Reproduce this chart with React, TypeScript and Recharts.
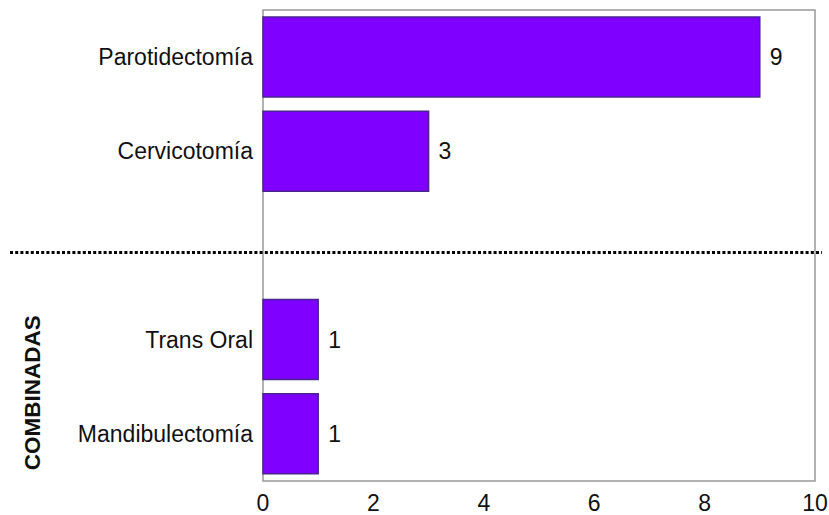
import { Bar, BarChart, LabelList, ReferenceArea, ReferenceLine, XAxis, YAxis } from "recharts";

const CATEGORIES = ["Parotidectomía", "Cervicotomía", " ", "Trans Oral", "Mandibulectomía"];
const COUNTS = [9, 3, null, 1, 1];
const X_TICKS = [0, 2, 4, 6, 8, 10];
const GROUP_LABEL = "COMBINADAS";

const FONT = "'Liberation Sans', Arial, Helvetica, sans-serif";
const BAR_FILL = "#7f00ff";
const BAR_STROKE = "#4a2490";
const BOX_COLOR = "#999999";
const TICK = { fill: "#111111", fontSize: 23, fontFamily: FONT };

const rows = CATEGORIES.map((name, i) => ({ name, value: COUNTS[i] }));

export default function App() {
  return (
    <div style={{ position: "absolute", left: 0, top: 0, background: "#fff" }}>
      <BarChart
        width={829}
        height={515}
        data={rows}
        layout="vertical"
        margin={{ top: 10, right: 14, bottom: 0, left: 0 }}
        barSize={80}
      >
        <XAxis
          type="number"
          domain={[0, 10]}
          ticks={X_TICKS}
          axisLine={false}
          tickLine={false}
          tickSize={0}
          tickMargin={14}
          height={34}
          tick={TICK}
          interval={0}
        />
        <YAxis
          type="category"
          dataKey="name"
          width={263}
          axisLine={false}
          tickLine={false}
          tickSize={0}
          tickMargin={10}
          tick={TICK}
          interval={0}
        />
        <Bar
          dataKey="value"
          fill={BAR_FILL}
          stroke={BAR_STROKE}
          strokeWidth={1.5}
          isAnimationActive={false}
        >
          <LabelList
            dataKey="value"
            position="right"
            offset={10}
            style={{ fill: "#111111", fontSize: 23, fontFamily: FONT }}
          />
        </Bar>
        <ReferenceArea
          x1={0}
          x2={10}
          fill="none"
          stroke={BOX_COLOR}
          strokeWidth={1.5}
          ifOverflow="visible"
        />
        {/* group caption, centred on the combined-surgery rows */}
        <ReferenceArea
          y1="Trans Oral"
          y2="Mandibulectomía"
          fill="none"
          stroke="none"
          ifOverflow="visible"
          label={(props: any) => {
            const vb = props.viewBox;
            const cx = 33;
            const cy = vb.y + vb.height / 2 + 6;
            return (
              <text
                x={cx}
                y={cy}
                transform={`rotate(-90, ${cx}, ${cy})`}
                textAnchor="middle"
                dominantBaseline="central"
                fontSize={22.5}
                fontWeight="bold"
                fontFamily={FONT}
                fill="#111111"
              >
                {GROUP_LABEL}
              </text>
            );
          }}
        />
        {/* dotted separator between single and combined procedures */}
        <ReferenceLine
          y=" "
          ifOverflow="visible"
          shape={(p: any) => (
            <line
              x1={10}
              x2={822}
              y1={p.y1 + 7}
              y2={p.y2 + 7}
              stroke="#000000"
              strokeWidth={3}
              strokeDasharray="3 2.2"
            />
          )}
        />
      </BarChart>
    </div>
  );
}
